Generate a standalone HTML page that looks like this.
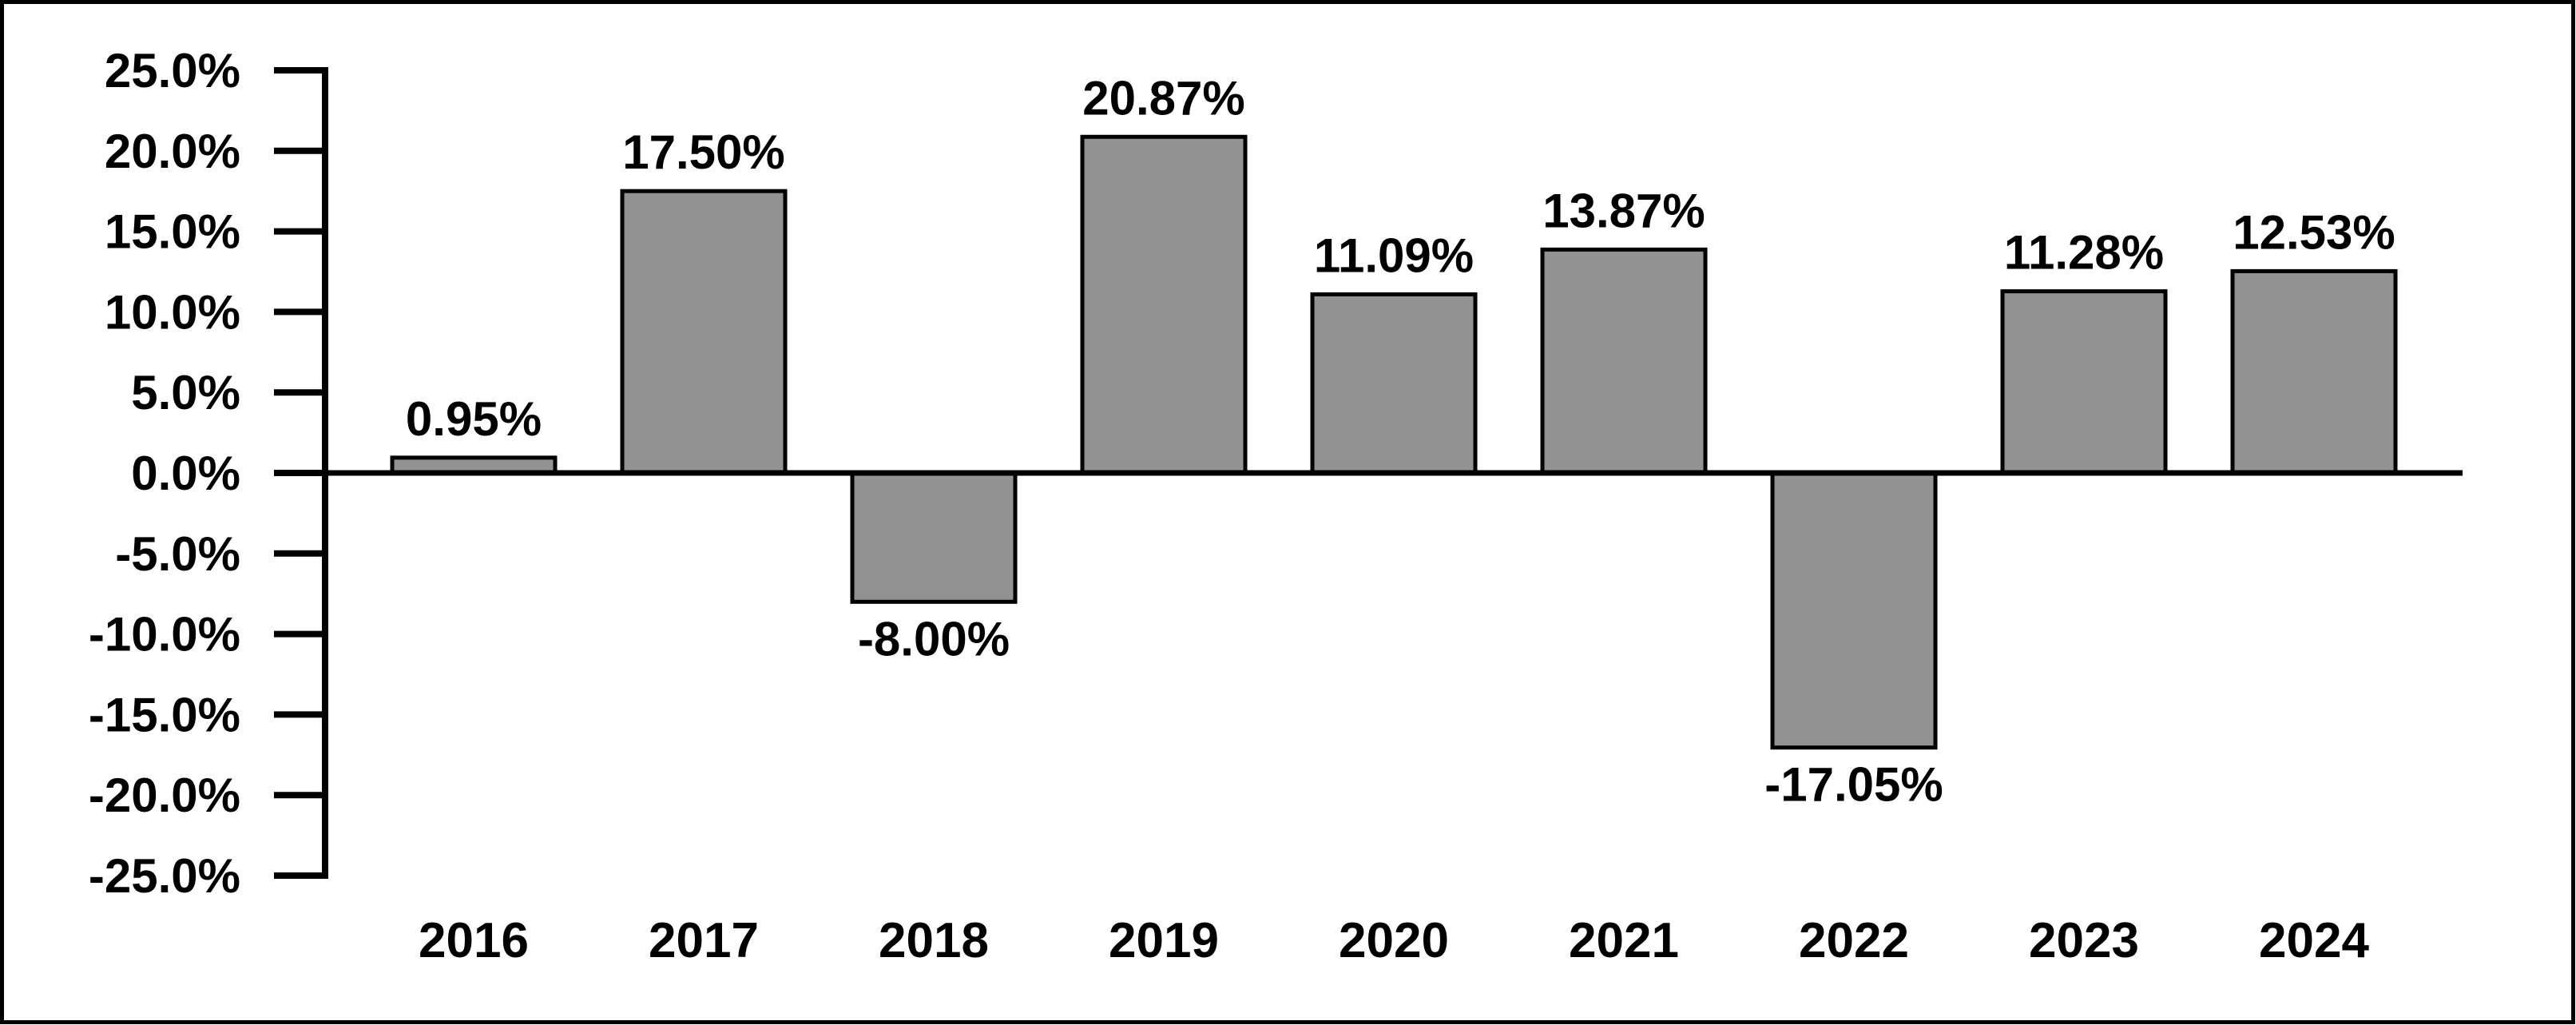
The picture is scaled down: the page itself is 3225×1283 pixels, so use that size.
<!DOCTYPE html>
<html><head><meta charset="utf-8"><style>
html,body{margin:0;padding:0;background:#fff}
svg{display:block}
text{font-family:"Liberation Sans",Arial,sans-serif;font-weight:bold;fill:#000}
</style></head>
<body>
<svg id="chart" width="3225" height="1283" viewBox="0 0 3225 1283" xmlns="http://www.w3.org/2000/svg">
<rect x="2.5" y="2.5" width="3219" height="1277" fill="#fff" stroke="#000" stroke-width="5"/>
<g id="axes"></g><g id="bars"></g><g id="labels"></g>
</svg>
<script>
const categories=["2016","2017","2018","2019","2020","2021","2022","2023","2024"];
const values=[0.95,17.50,-8.00,20.87,11.09,13.87,-17.05,11.28,12.53];
const valueLabels=["0.95%","17.50%","-8.00%","20.87%","11.09%","13.87%","-17.05%","11.28%","12.53%"];
const yTicks=[25,20,15,10,5,0,-5,-10,-15,-20,-25];
const yTickLabels=["25.0%","20.0%","15.0%","10.0%","5.0%","0.0%","-5.0%","-10.0%","-15.0%","-20.0%","-25.0%"];

const NS="http://www.w3.org/2000/svg";
function y(v){return 592-v*20.16;}
function xc(i){return 593+i*288;}
const BW=204;
function mk(tag,attrs,parent){const e=document.createElementNS(NS,tag);for(const k in attrs)e.setAttribute(k,attrs[k]);parent.appendChild(e);return e;}
const axes=document.getElementById('axes'),bars=document.getElementById('bars'),labels=document.getElementById('labels');

yTicks.forEach((t,i)=>{
  const tk=mk('line',{x1:343,x2:410,y1:y(t),y2:y(t),stroke:'#000','stroke-width':8},axes);
  
  
  const lb=mk('text',{x:301,y:y(t)+21,'text-anchor':'end','font-size':60},axes);
  lb.textContent=yTickLabels[i];
  
  
});
const ya=mk('line',{x1:407,x2:407,y1:y(25)-4,y2:y(-25)+4,stroke:'#000','stroke-width':8},axes);



values.forEach((v,i)=>{
  const top=Math.min(y(v),y(0)),h=Math.abs(y(v)-y(0));
  const r=mk('rect',{x:xc(i)-BW/2,y:top,width:BW,height:h,fill:'#929292',stroke:'#000','stroke-width':5},bars);
  
  
  const vl=mk('text',{x:xc(i),y:v>=0?y(v)-28:y(v)+67,'text-anchor':'middle','font-size':60},labels);
  vl.textContent=valueLabels[i];
  
  
  const cl=mk('text',{x:xc(i),y:1198,'text-anchor':'middle','font-size':62},labels);
  cl.textContent=categories[i];
  
  
});
const za=mk('line',{x1:403,x2:3083,y1:y(0),y2:y(0),stroke:'#000','stroke-width':7},axes);


document.getElementById('chart').appendChild(axes);
</script>
</body></html>
